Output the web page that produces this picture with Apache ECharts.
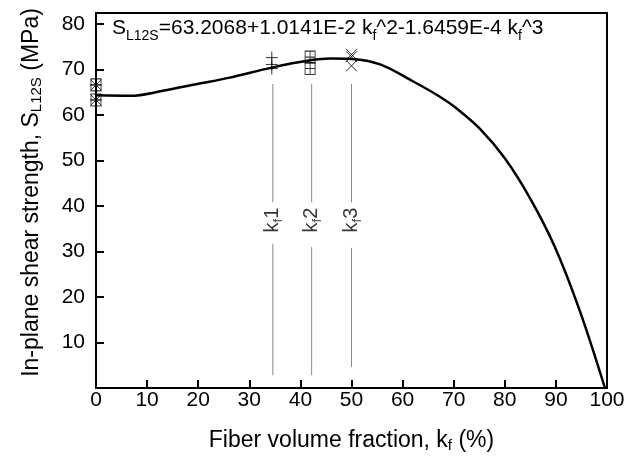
<!DOCTYPE html>
<html>
<head>
<meta charset="utf-8">
<script src="https://cdn.jsdelivr.net/npm/echarts@6/dist/echarts.min.js"></script>
<style>
html, body { margin: 0; padding: 0; background: #fff; }
#main { width: 644px; height: 458px; }
</style>
</head>
<body>
<div id="main"></div>
<script>
// fitted curve
var curveX = [0, 6.7, 13.1, 19.8, 26.2, 34.4, 41.9, 45.8, 50.1, 55.6, 62.0, 67.3, 70.6, 75.1, 80.0, 84.9, 89.8, 94.7, 99.6];
var curveY = [64.3, 64.2, 65.3, 66.8, 68.2, 70.4, 72.0, 72.4, 72.3, 71.1, 67.4, 64.0, 61.4, 57.0, 50.5, 41.8, 31.0, 16.9, 0];

// test points (three marker types)
var plusX = [0, 0, 34.4, 34.4, 34.4];
var plusY = [66.6, 63.3, 72.6, 71.1, 70.2];
var boxX = [0, 0, 41.9, 41.9];
var boxY = [66.6, 63.3, 72.7, 70.2];
var crossX = [0, 0, 50.0, 50.0, 50.0];
var crossY = [66.6, 63.3, 73.3, 72.8, 70.8];

// kf1..kf3 guide lines
var guideNames = ['1', '2', '3'];
var guideX = [34.6, 42.2, 50.0];
var guideTop = [66.8, 66.8, 66.8];
var guideGapTop = [40.8, 40.8, 40.8];
var guideGapBottom = [31.7, 31.0, 30.8];
var guideBottom = [2.8, 2.8, 4.6];
var guideLabelY = 36.9;

// axis ticks
var xTicks = [0, 10, 20, 30, 40, 50, 60, 70, 80, 90, 100];
var yTicks = [10, 20, 30, 40, 50, 60, 70, 80];

var FONT = 'Liberation Sans, Arial, sans-serif';

var myChart = echarts.init(document.getElementById('main'));

function zip(xs, ys) {
    return xs.map(function (x, i) { return [x, ys[i]]; });
}

var markerStyle = { color: 'none', borderColor: '#000', borderWidth: 1 };

var series = [];

// guide lines, broken where the label sits
guideX.forEach(function (x, i) {
    series.push({
        type: 'line',
        data: [[x, guideTop[i]], [x, guideGapTop[i]], [x, '-'], [x, guideGapBottom[i]], [x, guideBottom[i]]],
        showSymbol: false,
        connectNulls: false,
        lineStyle: { color: '#8a8a8a', width: 1 },
        z: 1,
        silent: true
    });
});

// guide labels
series.push({
    type: 'scatter',
    data: guideX.map(function (x, i) { return { value: [x, guideLabelY], name: guideNames[i] }; }),
    symbolSize: 0,
    label: {
        show: true,
        position: 'inside',
        rotate: 90,
        formatter: function (p) { return '{a|k}{b|f}{a|' + p.name + '}'; },
        rich: {
            a: { fontFamily: FONT, fontSize: 20, color: '#000' },
            b: { fontFamily: FONT, fontSize: 13, color: '#000', padding: [12, 0, 0, 0] }
        }
    },
    z: 2,
    silent: true
});

// curve
series.push({
    type: 'line',
    data: zip(curveX, curveY),
    smooth: 0.35,
    showSymbol: false,
    lineStyle: { color: '#000', width: 2.5 },
    z: 3,
    silent: true
});

series.push({
    type: 'scatter',
    data: zip(plusX, plusY),
    symbol: 'path://M5,0L5,10M0,5L10,5',
    symbolSize: 12,
    itemStyle: markerStyle,
    z: 4
});
series.push({
    type: 'scatter',
    data: zip(boxX, boxY),
    symbol: 'path://M0,0L10,0L10,10L0,10ZM5,0L5,10M0,5L10,5',
    symbolSize: [10, 12],
    itemStyle: markerStyle,
    z: 4
});
series.push({
    type: 'scatter',
    data: zip(crossX, crossY),
    symbol: 'path://M0,0L10,10M10,0L0,10',
    symbolSize: 11,
    itemStyle: markerStyle,
    z: 4
});

var option = {
    animation: false,
    backgroundColor: '#fff',
    title: {
        text: '{a|S}{b|L12S}{a|=63.2068+1.0141E-2 k}{b|f}{a|^2-1.6459E-4 k}{b|f}{a|^3}',
        left: 112,
        top: 14,
        padding: 0,
        textStyle: {
            fontWeight: 'normal',
            rich: {
                a: { fontFamily: FONT, fontSize: 21, fontWeight: 'normal', color: '#000' },
                b: { fontFamily: FONT, fontSize: 14, fontWeight: 'normal', color: '#000', padding: [15, 0, 0, 0] }
            }
        }
    },
    grid: {
        left: 96,
        right: 37,
        top: 13,
        bottom: 65,
        show: true,
        borderColor: '#000',
        borderWidth: 2,
        containLabel: false
    },
    xAxis: {
        type: 'value',
        min: 0,
        max: 100,
        interval: 10,
        name: 'Fiber volume fraction, k{b|f} (%)',
        nameLocation: 'middle',
        nameGap: 40,
        nameTextStyle: {
            fontFamily: FONT, fontSize: 23, color: '#000',
            rich: {
                b: { fontFamily: FONT, fontSize: 15, color: '#000', padding: [10, 0, 0, 0] }
            }
        },
        axisLine: { lineStyle: { color: '#000', width: 2 } },
        axisTick: { inside: true, length: 8, lineStyle: { color: '#000', width: 2 } },
        axisLabel: {
            margin: 2,
            fontFamily: FONT,
            fontSize: 21,
            color: '#000',
            customValues: xTicks
        },
        splitLine: { show: false }
    },
    yAxis: {
        type: 'value',
        min: 0,
        max: 82.4,
        interval: 10,
        name: 'In-plane shear strength, S{b|L12S} (MPa)',
        nameLocation: 'middle',
        nameGap: 52,
        nameTextStyle: {
            fontFamily: FONT, fontSize: 23, color: '#000',
            padding: [0, 0, 0, 16],
            rich: {
                b: { fontFamily: FONT, fontSize: 15, color: '#000', padding: [10, 0, 0, 0] }
            }
        },
        axisLine: { lineStyle: { color: '#000', width: 2 } },
        axisTick: { inside: true, length: 8, lineStyle: { color: '#000', width: 2 }, customValues: yTicks },
        axisLabel: {
            margin: 11,
            fontFamily: FONT,
            fontSize: 21,
            color: '#000',
            customValues: yTicks
        },
        splitLine: { show: false }
    },
    series: series
};

myChart.setOption(option, true);
</script>
</body>
</html>
